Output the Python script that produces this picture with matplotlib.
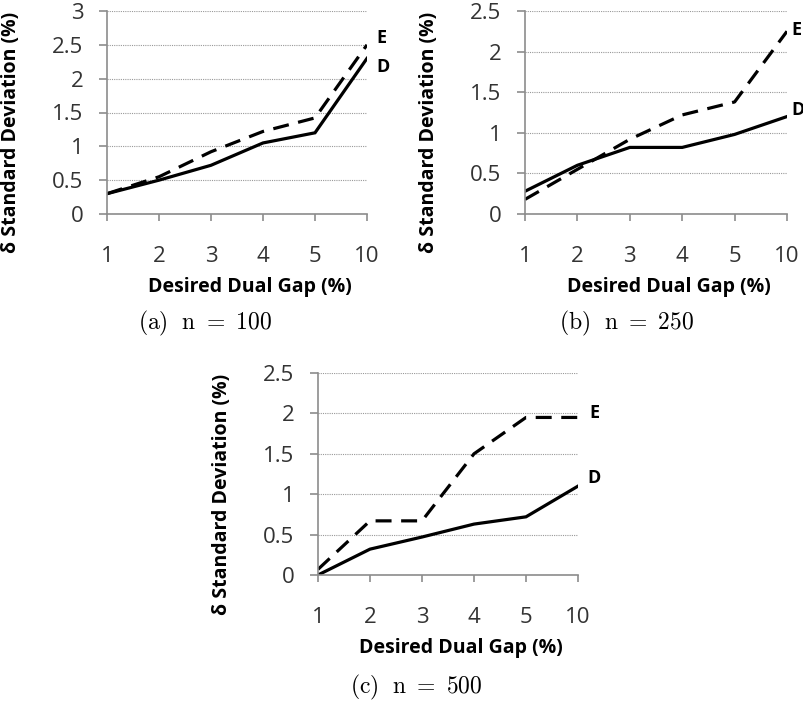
import matplotlib
matplotlib.use("Agg")
import matplotlib.pyplot as plt

plt.rcParams['mathtext.fontset'] = 'cm'
plt.rcParams['font.family'] = ['Open Sans', 'DejaVu Sans']

gaps = ['1', '2', '3', '4', '5', '10']

d_100 = [0.30, 0.50, 0.72, 1.05, 1.20, 2.30]
e_100 = [0.30, 0.55, 0.92, 1.22, 1.42, 2.50]

d_250 = [0.28, 0.60, 0.82, 0.82, 0.98, 1.20]
e_250 = [0.18, 0.55, 0.92, 1.22, 1.38, 2.25]

d_500 = [0.00, 0.32, 0.47, 0.63, 0.72, 1.10]
e_500 = [0.07, 0.67, 0.67, 1.50, 1.95, 1.95]

captions = ['(a)\\ \\ n\\ =\\ 100', '(b)\\ \\ n\\ =\\ 250', '(c)\\ \\ n\\ =\\ 500']

W, H = 804, 704
fig = plt.figure(figsize=(W / 100, H / 100), dpi=100)


def px_axes(left, right, top, bottom):
    return fig.add_axes([left / W, 1 - bottom / H, (right - left) / W, (bottom - top) / H])


def draw(ax, d, e, ymax, e_off, d_off):
    x = list(range(len(gaps)))
    ax.plot(x, d, color='black', lw=2.3, solid_joinstyle='miter')
    ax.plot(x, e, color='black', lw=2.3, dashes=(5, 3))
    ax.set_xlim(0, len(gaps) - 1)
    ax.set_ylim(0, ymax)
    ticks = [i * 0.5 for i in range(int(ymax / 0.5) + 1)]
    ax.set_yticks(ticks)
    ax.set_yticklabels([('%g' % t) for t in ticks])
    ax.set_xticks(x)
    ax.set_xticklabels(gaps)
    ax.grid(axis='y', color='#999999', ls=(0, (1, 1)), lw=0.8)
    ax.set_axisbelow(True)
    for s in ['top', 'right']:
        ax.spines[s].set_visible(False)
    for s in ['left', 'bottom']:
        ax.spines[s].set_color('#8c8c8c')
        ax.spines[s].set_linewidth(1.2)
    ax.tick_params(axis='x', direction='out', length=5, width=1.2, color='#8c8c8c',
                   pad=18, labelsize=16, labelcolor='#333333')
    ax.tick_params(axis='y', direction='out', length=6, width=1.2, color='#8c8c8c',
                   pad=11, labelsize=16, labelcolor='#333333')
    ax.set_ylabel('δ Standard Deviation (%)', fontsize=14, fontweight='bold')
    ax.yaxis.set_label_coords(-0.33, 0.40)
    ax.text(0.55, -0.36, 'Desired Dual Gap (%)', transform=ax.transAxes,
            ha='center', va='center', fontsize=14, fontweight='bold')
    last = len(gaps) - 1
    ax.annotate('E', (last, e[-1]), xytext=e_off, textcoords='offset points',
                ha='left', va='center', fontsize=13, fontweight='bold', annotation_clip=False)
    ax.annotate('D', (last, d[-1]), xytext=d_off, textcoords='offset points',
                ha='left', va='center', fontsize=13, fontweight='bold', annotation_clip=False)


ax1 = px_axes(107, 367, 11, 214)
draw(ax1, d_100, e_100, 3.0, (7, 5), (7, -6))

ax2 = px_axes(525, 787, 11, 214)
draw(ax2, d_250, e_250, 2.5, (3, 1), (3, 5))

ax3 = px_axes(318, 578, 373, 575)
draw(ax3, d_500, e_500, 2.5, (8, 3), (7, 6))

for (cx, cy), cap in zip([(205, 323), (627, 323), (416, 687)], captions):
    fig.text(cx / W, 1 - cy / H, '$\\mathrm{' + cap + '}$', ha='center', va='center', fontsize=17)

fig.savefig('out.png', dpi=100)
